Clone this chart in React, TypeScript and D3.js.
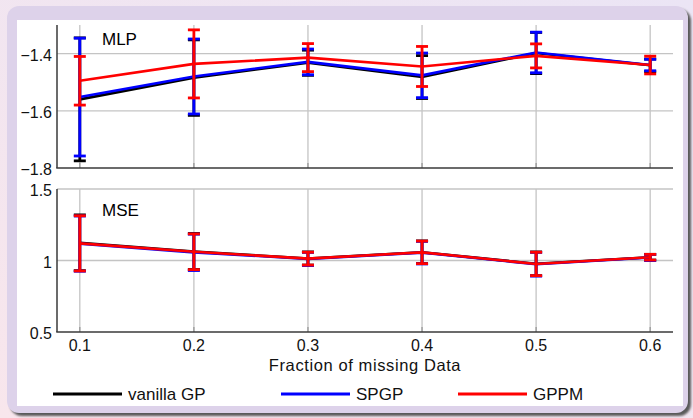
import React from "react";
import * as d3 from "d3";

// Fraction of missing data (x positions)
const fractions = [0.1, 0.2, 0.3, 0.4, 0.5, 0.6];

// MLP panel: means and error half-widths
const mlpVanillaMean = [-1.56, -1.484, -1.432, -1.482, -1.398, -1.441];
const mlpVanillaErr = [0.215, 0.132, 0.044, 0.075, 0.072, 0.022];
const mlpSpgpMean = [-1.552, -1.48, -1.429, -1.476, -1.396, -1.44];
const mlpSpgpErr = [0.206, 0.131, 0.045, 0.078, 0.071, 0.02];
const mlpGppmMean = [-1.495, -1.436, -1.414, -1.445, -1.408, -1.44];
const mlpGppmErr = [0.085, 0.119, 0.049, 0.07, 0.042, 0.031];

// MSE panel: means and error half-widths
const mseVanillaMean = [1.124, 1.063, 1.014, 1.058, 0.977, 1.023];
const mseVanillaErr = [0.195, 0.126, 0.046, 0.079, 0.083, 0.02];
const mseSpgpMean = [1.118, 1.057, 1.011, 1.055, 0.974, 1.021];
const mseSpgpErr = [0.193, 0.127, 0.046, 0.079, 0.083, 0.021];
const mseGppmMean = [1.12, 1.061, 1.013, 1.057, 0.976, 1.023];
const mseGppmErr = [0.193, 0.125, 0.045, 0.079, 0.082, 0.02];

const xTicks = [0.1, 0.2, 0.3, 0.4, 0.5, 0.6];
const xTickLabels = ["0.1", "0.2", "0.3", "0.4", "0.5", "0.6"];
const mlpTicks = [-1.8, -1.6, -1.4];
const mlpTickLabels = ["\u22121.8", "\u22121.6", "\u22121.4"];
const mseTicks = [0.5, 1, 1.5];
const mseTickLabels = ["0.5", "1", "1.5"];

const seriesNames = ["vanilla GP", "SPGP", "GPPM"];
const seriesColors = ["#000000", "#0000ff", "#ff0000"];

const FONT = "'Liberation Sans', Arial, Helvetica, sans-serif";

type Panel = {
  title: string;
  y: d3.ScaleLinear<number, number>;
  ticks: number[];
  tickLabels: string[];
  means: number[][];
  errs: number[][];
};

export default function App() {
  const W = 693;
  const H = 418;
  const x = d3.scaleLinear().domain([0.08, 0.62]).range([57, 673]);
  const yTop = d3.scaleLinear().domain([-1.8, -1.3]).range([168, 25]);
  const yBot = d3.scaleLinear().domain([0.5, 1.5]).range([332, 189]);

  const panels: Panel[] = [
    {
      title: "MLP",
      y: yTop,
      ticks: mlpTicks,
      tickLabels: mlpTickLabels,
      means: [mlpVanillaMean, mlpSpgpMean, mlpGppmMean],
      errs: [mlpVanillaErr, mlpSpgpErr, mlpGppmErr],
    },
    {
      title: "MSE",
      y: yBot,
      ticks: mseTicks,
      tickLabels: mseTickLabels,
      means: [mseVanillaMean, mseSpgpMean, mseGppmMean],
      errs: [mseVanillaErr, mseSpgpErr, mseGppmErr],
    },
  ];

  const capHalf = 6;
  const [x0, x1] = x.range();

  return (
    <svg
      width={W}
      height={H}
      style={{ position: "absolute", left: 0, top: 0 }}
      fontFamily={FONT}
    >
      <defs>
        <linearGradient id="bg" x1="1" y1="0" x2="0" y2="1">
          <stop offset="0" stopColor="#ebe5f5" />
          <stop offset="1" stopColor="#f8e6ec" />
        </linearGradient>
        <filter id="soft" x="-5%" y="-5%" width="110%" height="110%">
          <feGaussianBlur stdDeviation="1.2" />
        </filter>
      </defs>
      <rect x={0} y={0} width={W} height={H} fill="url(#bg)" />
      {/* frame */}
      <rect x={10} y={9} width={681} height={407} rx={12} fill="#5a5a5a" filter="url(#soft)" />
      <rect x={7} y={6} width={681} height={407} rx={12} fill="#ddd2ea" />
      <rect x={17} y={20} width={666} height={386} fill="#ffffff" />

      {panels.map((p, pi) => {
        const [yb, yt] = p.y.range();
        const line = d3
          .line<number>()
          .x((_, i) => x(fractions[i]))
          .y((d) => p.y(d));
        return (
          <g key={pi}>
            {/* grid */}
            {xTicks.map((t) => (
              <line key={"gx" + t} x1={x(t)} x2={x(t)} y1={yb} y2={yt} stroke="#c4c4c4" strokeWidth={1.3} />
            ))}
            {p.ticks.slice(1).map((t) => (
              <line key={"gy" + t} x1={x0} x2={x1} y1={p.y(t)} y2={p.y(t)} stroke="#c4c4c4" strokeWidth={1.3} />
            ))}
            {/* inward tick marks */}
            {xTicks.map((t) => (
              <line key={"tx" + t} x1={x(t)} x2={x(t)} y1={yb} y2={yb - 5} stroke="#999" strokeWidth={1.3} />
            ))}
            {/* axes */}
            <line x1={x0} x2={x0} y1={yb} y2={yt} stroke="#3a3a3a" strokeWidth={1.5} />
            <line x1={x0 - 0.75} x2={x1} y1={yb} y2={yb} stroke="#3a3a3a" strokeWidth={1.5} />
            {/* y tick labels */}
            {p.ticks.map((t, i) => (
              <text key={"ly" + t} x={52} y={p.y(t) + 7} fontSize={16} textAnchor="end" fill="#111">
                {p.tickLabels[i]}
              </text>
            ))}
            {/* series */}
            {p.means.map((m, si) => (
              <g key={si} stroke={seriesColors[si]} fill="none">
                <path d={line(m) || ""} strokeWidth={2.6} />
                {m.map((v, i) => {
                  const cx = x(fractions[i]);
                  const lo = p.y(v - p.errs[si][i]);
                  const hi = p.y(v + p.errs[si][i]);
                  return (
                    <g key={i} strokeWidth={2.8}>
                      <line x1={cx} x2={cx} y1={lo} y2={hi} />
                      <line x1={cx - capHalf} x2={cx + capHalf} y1={lo} y2={lo} />
                      <line x1={cx - capHalf} x2={cx + capHalf} y1={hi} y2={hi} />
                    </g>
                  );
                })}
              </g>
            ))}
            <text x={102} y={yt + (pi === 0 ? 20 : 27)} fontSize={17} fill="#000">
              {p.title}
            </text>
          </g>
        );
      })}

      {/* x tick labels */}
      {xTicks.map((t, i) => (
        <text key={"lx" + t} x={x(t)} y={351} fontSize={16} textAnchor="middle" fill="#111">
          {xTickLabels[i]}
        </text>
      ))}
      <text x={x(0.35)} y={370.5} fontSize={16.5} letterSpacing={0.6} textAnchor="middle" fill="#111">
        Fraction of missing Data
      </text>

      {/* legend */}
      {seriesNames.map((name, i) => {
        const lx = [53, 281, 458][i];
        return (
          <g key={name}>
            <line x1={lx} x2={lx + 69} y1={394} y2={394} stroke={seriesColors[i]} strokeWidth={3} />
            <text x={lx + 75} y={400} fontSize={17} fill="#111">
              {name}
            </text>
          </g>
        );
      })}
    </svg>
  );
}
